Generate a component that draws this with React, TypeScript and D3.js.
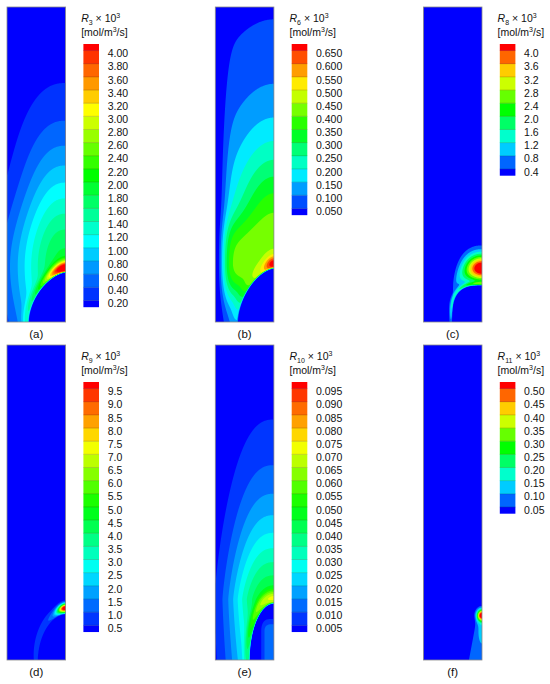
import { useMemo } from 'react'
import * as d3 from 'd3'

// colour-bar levels (x10^3 mol/m^3/s)
const LEVELS_R3 = [0.2, 0.4, 0.6, 0.8, 1.0, 1.2, 1.4, 1.6, 1.8, 2.0, 2.2, 2.4, 2.6, 2.8, 3.0, 3.2, 3.4, 3.6, 3.8, 4.0]
const LEVELS_R6 = [0.05, 0.1, 0.15, 0.2, 0.25, 0.3, 0.35, 0.4, 0.45, 0.5, 0.55, 0.6, 0.65]
const LEVELS_R8 = [0.4, 0.8, 1.2, 1.6, 2.0, 2.4, 2.8, 3.2, 3.6, 4.0]
const LEVELS_R9 = [0.5, 1.0, 1.5, 2.0, 2.5, 3.0, 3.5, 4.0, 4.5, 5.0, 5.5, 6.0, 6.5, 7.0, 7.5, 8.0, 8.5, 9.0, 9.5]
const LEVELS_R10 = [0.005, 0.01, 0.015, 0.02, 0.025, 0.03, 0.035, 0.04, 0.045, 0.05, 0.055, 0.06, 0.065, 0.07, 0.075, 0.08, 0.085, 0.09, 0.095]
const LEVELS_R11 = [0.05, 0.1, 0.15, 0.2, 0.25, 0.3, 0.35, 0.4, 0.45, 0.5]
const LEVELS = [LEVELS_R3, LEVELS_R6, LEVELS_R8, LEVELS_R9, LEVELS_R10, LEVELS_R11]
const DECIMALS = [2, 3, 1, 1, 3, 2]
const RATE_INDEX = ['3', '6', '8', '9', '10', '11']
const PANEL_LABELS = ['(a)', '(b)', '(c)', '(d)', '(e)', '(f)']

// domain: r = distance from the axis (right edge), z = height from the bottom
const R_MAX = 60
const Z_MAX = 322

// field estimates per reaction
// dome (low-rate core):  [top height, base radius, r exponent, z exponent, edge width]
// broad (main plume):    [amplitude, centre z, r scale, z scale up, z scale down, r exp, z exp, decay exp,
//                         wall width, form, bulge, bulge spread]
// peak (hot spot):       [amplitude, r scale, z scale, height above dome, decay exp]
// layer (dome sheath):   [amplitude, offset, width, bottom fraction]
// inner (core stream):   [amplitude, width, widening, top z, top decay, amp 2, r 2, z 2, z spread 2]
const DOME_R3 = [50, 37, 1.6, 1.8, 0.08]
const BROAD_R3 = [1.9, 57, 42.3, 112.8, 150, 2.4, 2, 0.8, 0, 0, 0.25, 70]
const PEAK_R3 = [2.3, 18, 7, 6, 2]
const LAYER_R3 = [0.45, 0.15, 0.2, 1]
const INNER_R3 = [0, 1, 0, 0, 1, 0, 1, 0, 1]

const DOME_R6 = [54, 36, 1.6, 1.8, 0.08]
const BROAD_R6 = [0.445, 60, 45, 116, 48, 2, 2, 1.35, 10, 1, 1.5, 35]
const PEAK_R6 = [0.22, 10, 8, 6, 2]
const LAYER_R6 = [0.03, 0.15, 0.25, 1]
const INNER_R6 = [0, 1, 0, 0, 1, 0, 1, 0, 1]

const DOME_R8 = [37, 30, 3, 3, 0.1]
const BROAD_R8 = [0, 1, 1, 1, 1, 2, 2, 1, 0, 0, 0, 1]
const PEAK_R8 = [4.9, 19, 14, 18, 1.8]
const LAYER_R8 = [1.2, 0.2, 0.2, 0.5]
const INNER_R8 = [0, 1, 0, 0, 1, 0, 1, 0, 1]

const DOME_R9 = [46, 27, 1.8, 2, 0.1]
const BROAD_R9 = [0, 1, 1, 1, 1, 2, 2, 1, 0, 0, 0, 1]
const PEAK_R9 = [10.3, 7.7, 4.4, 7, 2]
const LAYER_R9 = [1.0, 0.25, 0.35, 0.6]
const INNER_R9 = [0, 1, 0, 0, 1, 0, 1, 0, 1]

const DOME_R10 = [57, 24.5, 2, 2, 0.08]
const BROAD_R10 = [0.048, 62, 44, 95.7, 200, 2.5, 1.25, 1, 0, 0, 0, 1]
const PEAK_R10 = [0.006, 10, 5, 4, 2]
const LAYER_R10 = [0.02, 0.3, 0.3, 0.4]
const INNER_R10 = [0.0135, 13, 0, 30, 12, 0, 1, 0, 1]

const DOME_R11 = [0, 1, 2, 2, 0.1]
const BROAD_R11 = [0, 1, 1, 1, 1, 2, 2, 1, 0, 0, 0, 1]
const PEAK_R11 = [0.54, 5, 6, 46, 2]
const LAYER_R11 = [0, 0.2, 0.2, 1]
const INNER_R11 = [0.085, 6, 0.22, 44, 4, 0.05, 3.5, 30, 12]

const MODELS = [
  { dome: DOME_R3, broad: BROAD_R3, peak: PEAK_R3, layer: LAYER_R3, inner: INNER_R3 },
  { dome: DOME_R6, broad: BROAD_R6, peak: PEAK_R6, layer: LAYER_R6, inner: INNER_R6 },
  { dome: DOME_R8, broad: BROAD_R8, peak: PEAK_R8, layer: LAYER_R8, inner: INNER_R8 },
  { dome: DOME_R9, broad: BROAD_R9, peak: PEAK_R9, layer: LAYER_R9, inner: INNER_R9 },
  { dome: DOME_R10, broad: BROAD_R10, peak: PEAK_R10, layer: LAYER_R10, inner: INNER_R10 },
  { dome: DOME_R11, broad: BROAD_R11, peak: PEAK_R11, layer: LAYER_R11, inner: INNER_R11 },
]

function rateAt(r: number, z: number, m: any) {
  const [h, R, a, c, w] = m.dome
  let mask = 1
  let q = 0
  let zs = 0
  if (h > 0) {
    q = Math.pow(r / R, a) + Math.pow(Math.max(z, 0) / h, c)
    const t = Math.min(1, Math.max(0, (q - 1) / w))
    mask = t * t * (3 - 2 * t)
    zs = r < R ? h * Math.pow(1 - Math.pow(r / R, a), 1 / c) : 0
  }
  let v = 0
  const [B, zc, sr, sUp, sDown, pR, pZ, g, ww, form, bulge, sb] = m.broad
  if (B > 0) {
    const dz = z - zc
    const srz = sr * (1 + bulge * Math.exp(-((dz / sb) ** 2)))
    const u = Math.pow(r / srz, pR) + Math.pow(Math.abs(dz) / (dz > 0 ? sUp : sDown), pZ)
    let fb = form === 1 ? B / (1 + Math.pow(u, g)) : B * Math.exp(-Math.pow(u, g))
    if (ww > 0) fb *= 1 - Math.exp(-Math.pow((R_MAX - r) / ww, 2))
    v += fb
  }
  const [P, pr, pz, dzp, pp] = m.peak
  if (P > 0) {
    const dn = Math.sqrt((r / pr) ** 2 + ((z - zs - dzp) / pz) ** 2)
    v += P * Math.exp(-Math.pow(dn, pp))
  }
  const [L, lq, lw, ld] = m.layer
  if (L > 0 && h > 0) {
    v += L * Math.exp(-(((q - 1 - lq) / lw) ** 2)) * (ld + (1 - ld) * Math.min(1, Math.max(0, z) / h))
  }
  v *= mask
  const [I, i0, ig, zi, iz, I2, r2, z2, s2] = m.inner
  if (I > 0) {
    const wz = i0 + Math.max(0, zi - z) * ig
    const vz = z > zi ? Math.exp(-(((z - zi) / iz) ** 2)) : 1
    v += I * Math.exp(-((r / wz) ** 4)) * vz
  }
  if (I2 > 0) v += I2 * Math.exp(-((r / r2) ** 2) - ((z - z2) / s2) ** 2)
  return v
}

const FONT = 'Liberation Sans, Arial, Helvetica, sans-serif'
const PLOT_W = 58.6
const PLOT_H = 315
const COL_X = [7, 215.3, 423.4]
const ROW_Y = [7, 345]
const RES = 2
const STEP = 13.15
const BAR_W = 15.6

function ContourPanel({ i }: { i: number }) {
  const levels = LEVELS[i]
  const n = levels.length
  const x0 = COL_X[i % 3]
  const y0 = ROW_Y[Math.floor(i / 3)]
  const colour = (k: number) => d3.hsl(240 * (1 - k / n), 1, 0.5).formatHex()

  const bands = useMemo(() => {
    const rScale = d3.scaleLinear().domain([R_MAX, 0]).range([0, PLOT_W])
    const zScale = d3.scaleLinear().domain([0, Z_MAX]).range([PLOT_H, 0])
    const nx = Math.round(PLOT_W * RES)
    const ny = Math.round(PLOT_H * RES)
    const values: number[] = new Array(nx * ny)
    for (let j = 0; j < ny; j++) {
      const z = zScale.invert(((j + 0.5) * PLOT_H) / ny)
      for (let k = 0; k < nx; k++) {
        values[j * nx + k] = rateAt(rScale.invert(((k + 0.5) * PLOT_W) / nx), z, MODELS[i])
      }
    }
    const path = d3.geoPath(
      d3.geoTransform({
        point(x: number, y: number) {
          ;(this as any).stream.point((x * PLOT_W) / nx, (y * PLOT_H) / ny)
        },
      })
    )
    return d3.contours().size([nx, ny]).thresholds(levels)(values).map(c => path(c as any))
  }, [i])

  const top = y0 + 37
  const barX = x0 + 76.4
  const ly = d3
    .scaleLinear()
    .domain([levels[n - 1], levels[0]])
    .range([top + STEP / 2, top + STEP / 2 + (n - 1) * STEP])
  const fmt = d3.format(`.${DECIMALS[i]}f`)

  return (
    <g fontFamily={FONT} fill="#111">
      <g transform={`translate(${x0},${y0})`}>
        <rect width={PLOT_W} height={PLOT_H} fill={colour(0)} />
        {bands.map((d, k) => (
          <path key={k} d={d || undefined} fill={colour(k + 1)} />
        ))}
        <rect width={PLOT_W} height={PLOT_H} fill="none" stroke="#8a8a8a" strokeWidth={0.8} />
      </g>

      {/* legend title */}
      <text x={x0 + 74.2} y={y0 + 15} fontSize={10.5}>
        <tspan fontStyle="italic">R</tspan>
        <tspan dy={2.5} fontSize={7}>{RATE_INDEX[i]}</tspan>
        <tspan dy={-2.5}>{' \u00d7 10'}</tspan>
        <tspan dy={-4} fontSize={7}>3</tspan>
      </text>
      <text x={x0 + 74.2} y={y0 + 29} fontSize={10.5}>
        <tspan>[mol/m</tspan>
        <tspan dy={-4} fontSize={7}>3</tspan>
        <tspan dy={4}>/s]</tspan>
      </text>

      {/* colour bar */}
      {d3.range(n + 1).map(k => {
        const yTop = k === n ? top : ly(levels[k])
        const yBot = k === 0 ? top + n * STEP : ly(levels[k - 1])
        return <rect key={k} x={barX} y={yTop} width={BAR_W} height={yBot - yTop + 0.2} fill={colour(k)} />
      })}
      {levels.map(v => (
        <line key={`l${v}`} x1={barX} x2={barX + BAR_W} y1={ly(v)} y2={ly(v)} stroke="rgba(0,0,0,0.28)" strokeWidth={0.6} />
      ))}
      {levels.map(v => (
        <text key={`t${v}`} x={x0 + 100.7} y={ly(v) + 6.7} fontSize={10.5}>
          {fmt(v)}
        </text>
      ))}

      <text x={x0 + PLOT_W / 2} y={y0 + PLOT_H + 15.5} fontSize={11.5} textAnchor="middle">
        {PANEL_LABELS[i]}
      </text>
    </g>
  )
}

export default function App() {
  return (
    <div style={{ position: 'absolute', left: 0, top: 0, background: '#fff' }}>
      <svg width={550} height={684} style={{ display: 'block' }}>
        <rect width={550} height={684} fill="#fff" />
        {LEVELS.map((_, i) => (
          <ContourPanel key={i} i={i} />
        ))}
      </svg>
    </div>
  )
}
